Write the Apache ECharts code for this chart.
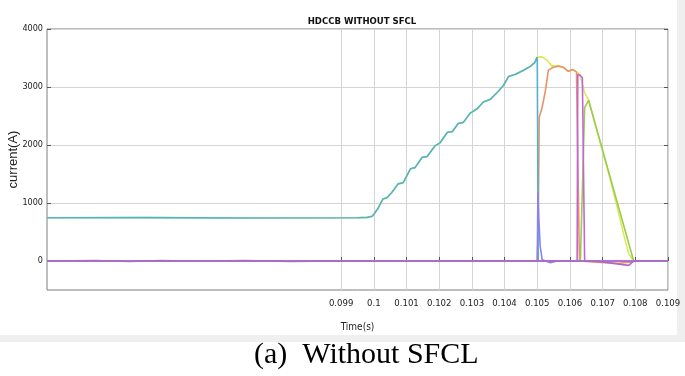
<!DOCTYPE html>
<html>
<head>
<meta charset="utf-8">
<script src="https://cdn.jsdelivr.net/npm/echarts@6/dist/echarts.min.js"></script>
<style>
html,body{margin:0;padding:0;background:#fff;}
#chart{width:685px;height:376px;}
</style>
</head>
<body>
<div id="chart"></div>
<script>
// tick values
var xTicks = [0.099,0.100,0.101,0.102,0.103,0.104,0.105,0.106,0.107,0.108,0.109];
var yTicks = [0,1000,2000,3000,4000];

// current ramp (shared by the breaker branch curves until the trip at 0.105 s)
var ramp = [[0.0900,745],[0.0930,748],[0.0960,742],[0.0995,745],[0.0998,752],[0.09995,770],[0.1000,805],
  [0.10012,900],[0.10028,1070],[0.1004,1090],[0.10055,1180],[0.10074,1330],[0.1009,1350],[0.10112,1590],
  [0.10126,1610],[0.10148,1790],[0.10163,1800],[0.10188,1990],[0.10203,2040],[0.10225,2220],[0.1024,2230],
  [0.10258,2370],[0.10274,2390],[0.10295,2550],[0.10317,2630],[0.10335,2740],[0.10357,2790],[0.10378,2910],
  [0.10397,3030],[0.10412,3180],[0.10434,3220],[0.10458,3290],[0.1048,3360],[0.10492,3420],[0.105,3515]];
var cyanTail = [[0.10501,3515],[0.10503,0],[0.109,0]];
var yellowTail = [[0.10502,3540],[0.10515,3520],[0.1053,3460],[0.10545,3360],[0.1056,3370],[0.1058,3340],
  [0.10595,3270],[0.1061,3300],[0.1062,3260],[0.10628,3230],[0.10635,3120],[0.10645,2900],[0.10657,2780],
  [0.1072,1480],[0.1075,800],[0.1077,330],[0.1078,120],[0.10795,0],[0.109,0]];
var orange = [[0.09,0],[0.105,0],[0.10503,600],[0.10506,2480],[0.10515,2650],[0.10525,2940],[0.10534,3290],
  [0.10549,3340],[0.10565,3360],[0.1058,3340],[0.10595,3270],[0.10608,3300],[0.1062,3260],[0.10626,3240],
  [0.10629,0],[0.1068,-20],[0.1075,-40],[0.1079,-15],[0.108,0],[0.109,0]];
var green = [[0.09,0],[0.10632,0],[0.10645,2650],[0.10657,2770],[0.10795,0],[0.109,0]];
var magenta = [[0.09,0],[0.10622,0],[0.10624,3220],[0.10632,3200],[0.10638,3160],[0.10645,0],[0.109,0]];
var spike = [[0.09,0],[0.105,0],[0.10502,1180],[0.10505,700],[0.10509,250],[0.10515,20],[0.1052,0],
  [0.1054,-30],[0.10546,-45],[0.1056,0],[0.109,0]];
var purple = [[0.09,0],[0.0915,8],[0.0925,-8],[0.0935,6],[0.0945,-5],[0.0960,6],[0.0975,-6],[0.0990,3],
  [0.1010,-4],[0.1030,5],[0.1050,0],[0.1068,-5],[0.1078,-75],[0.10795,0],[0.109,0]];

var narrow = '"Liberation Sans Narrow","DejaVu Sans Condensed","Liberation Sans",sans-serif';
var txt = '#222';

function line(name, data, color) {
  return {name:name, type:'line', data:data, showSymbol:false, symbol:'none', animation:false,
    lineStyle:{color:color, width:1.6}, itemStyle:{color:color}};
}

var chart = echarts.init(document.getElementById('chart'));
chart.setOption({
  backgroundColor:'#fff',
  animation:false,
  title:{text:'HDCCB WITHOUT SFCL', left:357, top:12, textAlign:'center',
    textStyle:{fontFamily:narrow, fontSize:9.5, fontWeight:'bold', color:'#111'}},
  grid:{left:47, right:17, top:29, bottom:86, show:true, borderColor:'#7f7f7f', borderWidth:1,
    containLabel:false, outerBoundsMode:'none'},
  xAxis:[{
    type:'value', min:0.09, max:0.109, interval:0.001, position:'bottom',
    axisLine:{show:false},
    axisTick:{inside:true, length:4, customValues:xTicks, lineStyle:{color:'#555'}},
    axisLabel:{customValues:xTicks, margin:9, fontFamily:narrow, fontSize:9.5, color:txt,
      formatter:function(v){return String(+v.toFixed(3));}},
    splitLine:{show:true, lineStyle:{color:'#d4d4d4', width:1}},
    name:'Time(s)', nameLocation:'middle', nameGap:32, nameMoveOverlap:false,
    nameTextStyle:{fontFamily:narrow, fontSize:10, color:txt}
  }],
  yAxis:[{
    type:'value', min:-500, max:4000, position:'left',
    axisLine:{show:false},
    axisTick:{inside:true, length:4, customValues:yTicks, lineStyle:{color:'#555'}},
    axisLabel:{customValues:yTicks, margin:4, fontFamily:narrow, fontSize:9, color:txt,
      formatter:function(v){return String(v);}},
    splitLine:{show:true, lineStyle:{color:'#d4d4d4', width:1}},
    name:'current(A)', nameLocation:'middle', nameGap:27, nameRotate:90, nameMoveOverlap:false,
    nameTextStyle:{fontFamily:'"Liberation Sans",sans-serif', fontSize:13, color:txt}
  },{
    type:'value', min:-500, max:4000, position:'right',
    axisLine:{show:false},
    axisTick:{inside:true, length:4, customValues:yTicks, lineStyle:{color:'#555'}},
    axisLabel:{show:false}, splitLine:{show:false}
  }],
  graphic:[
    {type:'rect', shape:{x:677, y:0, width:8, height:342}, style:{fill:'#efefef'}, silent:true},
    {type:'rect', shape:{x:0, y:335, width:685, height:7}, style:{fill:'#efefef'}, silent:true},
    {type:'text', left:254, top:340, style:{text:'(a)  Without SFCL', fill:'#000',
      font:'30px "Liberation Serif","Times New Roman",serif'}}
  ],
  series:[
    line('yellow', ramp.concat(yellowTail), '#dfe85a'),
    line('orange', orange, '#e8936a'),
    line('green', green, '#9acd4e'),
    line('cyan', ramp.concat(cyanTail), '#4fb3cc'),
    line('spike', spike, '#8a82ee'),
    line('magenta', magenta, '#c266d6'),
    line('purple', purple, '#a86cc6')
  ]
});
</script>
</body>
</html>
